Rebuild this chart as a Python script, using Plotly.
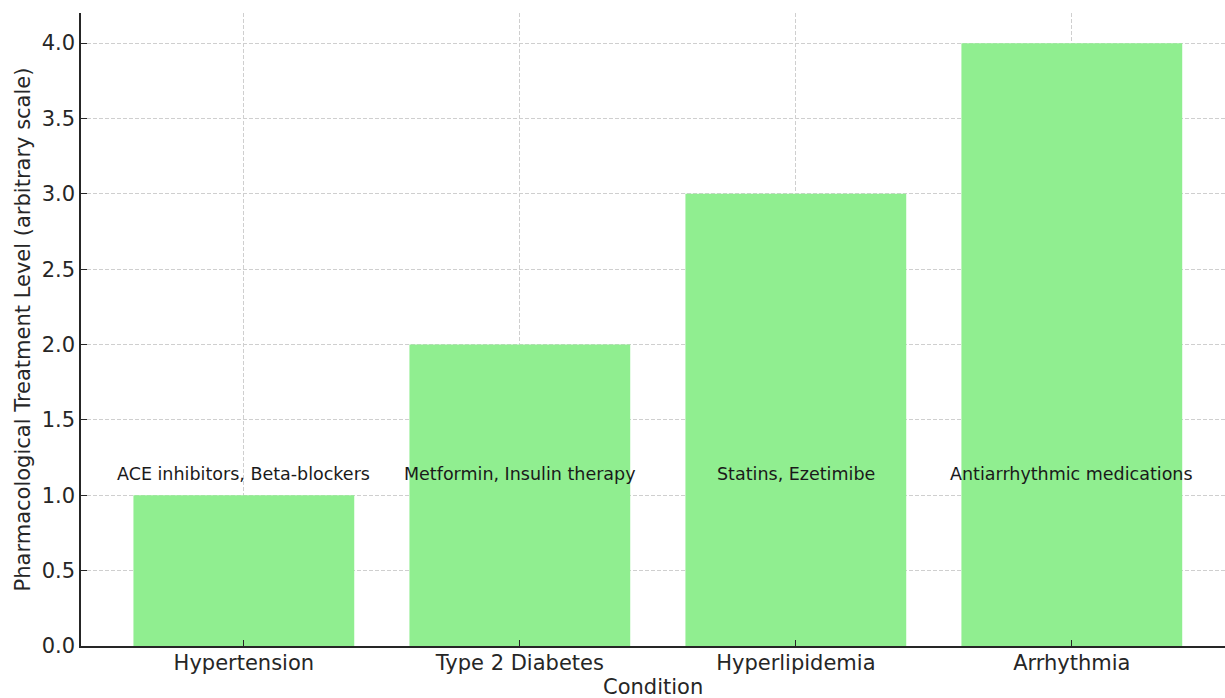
import plotly.graph_objects as go

conditions = ["Hypertension", "Type 2 Diabetes", "Hyperlipidemia", "Arrhythmia"]
treatment_levels = [1, 2, 3, 4]
treatments = ["ACE inhibitors, Beta-blockers", "Metformin, Insulin therapy",
              "Statins, Ezetimibe", "Antiarrhythmic medications"]
label_y = 1.1

fig = go.Figure()
fig.add_trace(go.Bar(
    x=conditions, y=treatment_levels, width=0.8,
    marker=dict(color="#90EE90", line=dict(width=0)),
    hoverinfo="x+y",
))

for c, t in zip(conditions, treatments):
    fig.add_annotation(x=c, y=label_y, text=t, showarrow=False,
                       xanchor="center", yanchor="bottom", yshift=-6,
                       font=dict(family="DejaVu Sans", size=17.5, color="#1a1a1a"))

axis_font = dict(family="DejaVu Sans", size=21, color="#262626")

# x-axis title as a paper annotation, kept inside the page
fig.add_annotation(x=0.5, xref="paper", y=0, yref="paper", yshift=-54,
                   text="Condition", showarrow=False, borderpad=0,
                   xanchor="center", yanchor="bottom", font=axis_font)

fig.update_layout(
    width=1225, height=698,
    margin=dict(l=81, r=0, t=13, b=52),
    paper_bgcolor="white", plot_bgcolor="white",
    showlegend=False,
    font=dict(family="DejaVu Sans", color="#262626"),
    xaxis=dict(
        type="category", range=[-0.59, 3.555],
        showline=True, linecolor="#262626", linewidth=1.5,
        ticks="inside", ticklen=6, tickcolor="#262626", tickwidth=1.2,
        showgrid=True, gridcolor="#cfcfcf", griddash="4px,2px", gridwidth=1,
        tickfont=axis_font, layer="above traces", ticklabelstandoff=-3,
        zeroline=False,
    ),
    yaxis=dict(
        range=[0, 4.2], dtick=0.5, tickformat=".1f",
        showline=True, linecolor="#262626", linewidth=1.5,
        ticks="inside", ticklen=6, tickcolor="#262626", tickwidth=1.2,
        showgrid=True, gridcolor="#cfcfcf", griddash="4px,2px", gridwidth=1,
        tickfont=axis_font, layer="above traces",
        title=dict(text="Pharmacological Treatment Level (arbitrary scale)",
                   font=axis_font, standoff=5),
        zeroline=False,
    ),
)

fig.write_html("out.html")
